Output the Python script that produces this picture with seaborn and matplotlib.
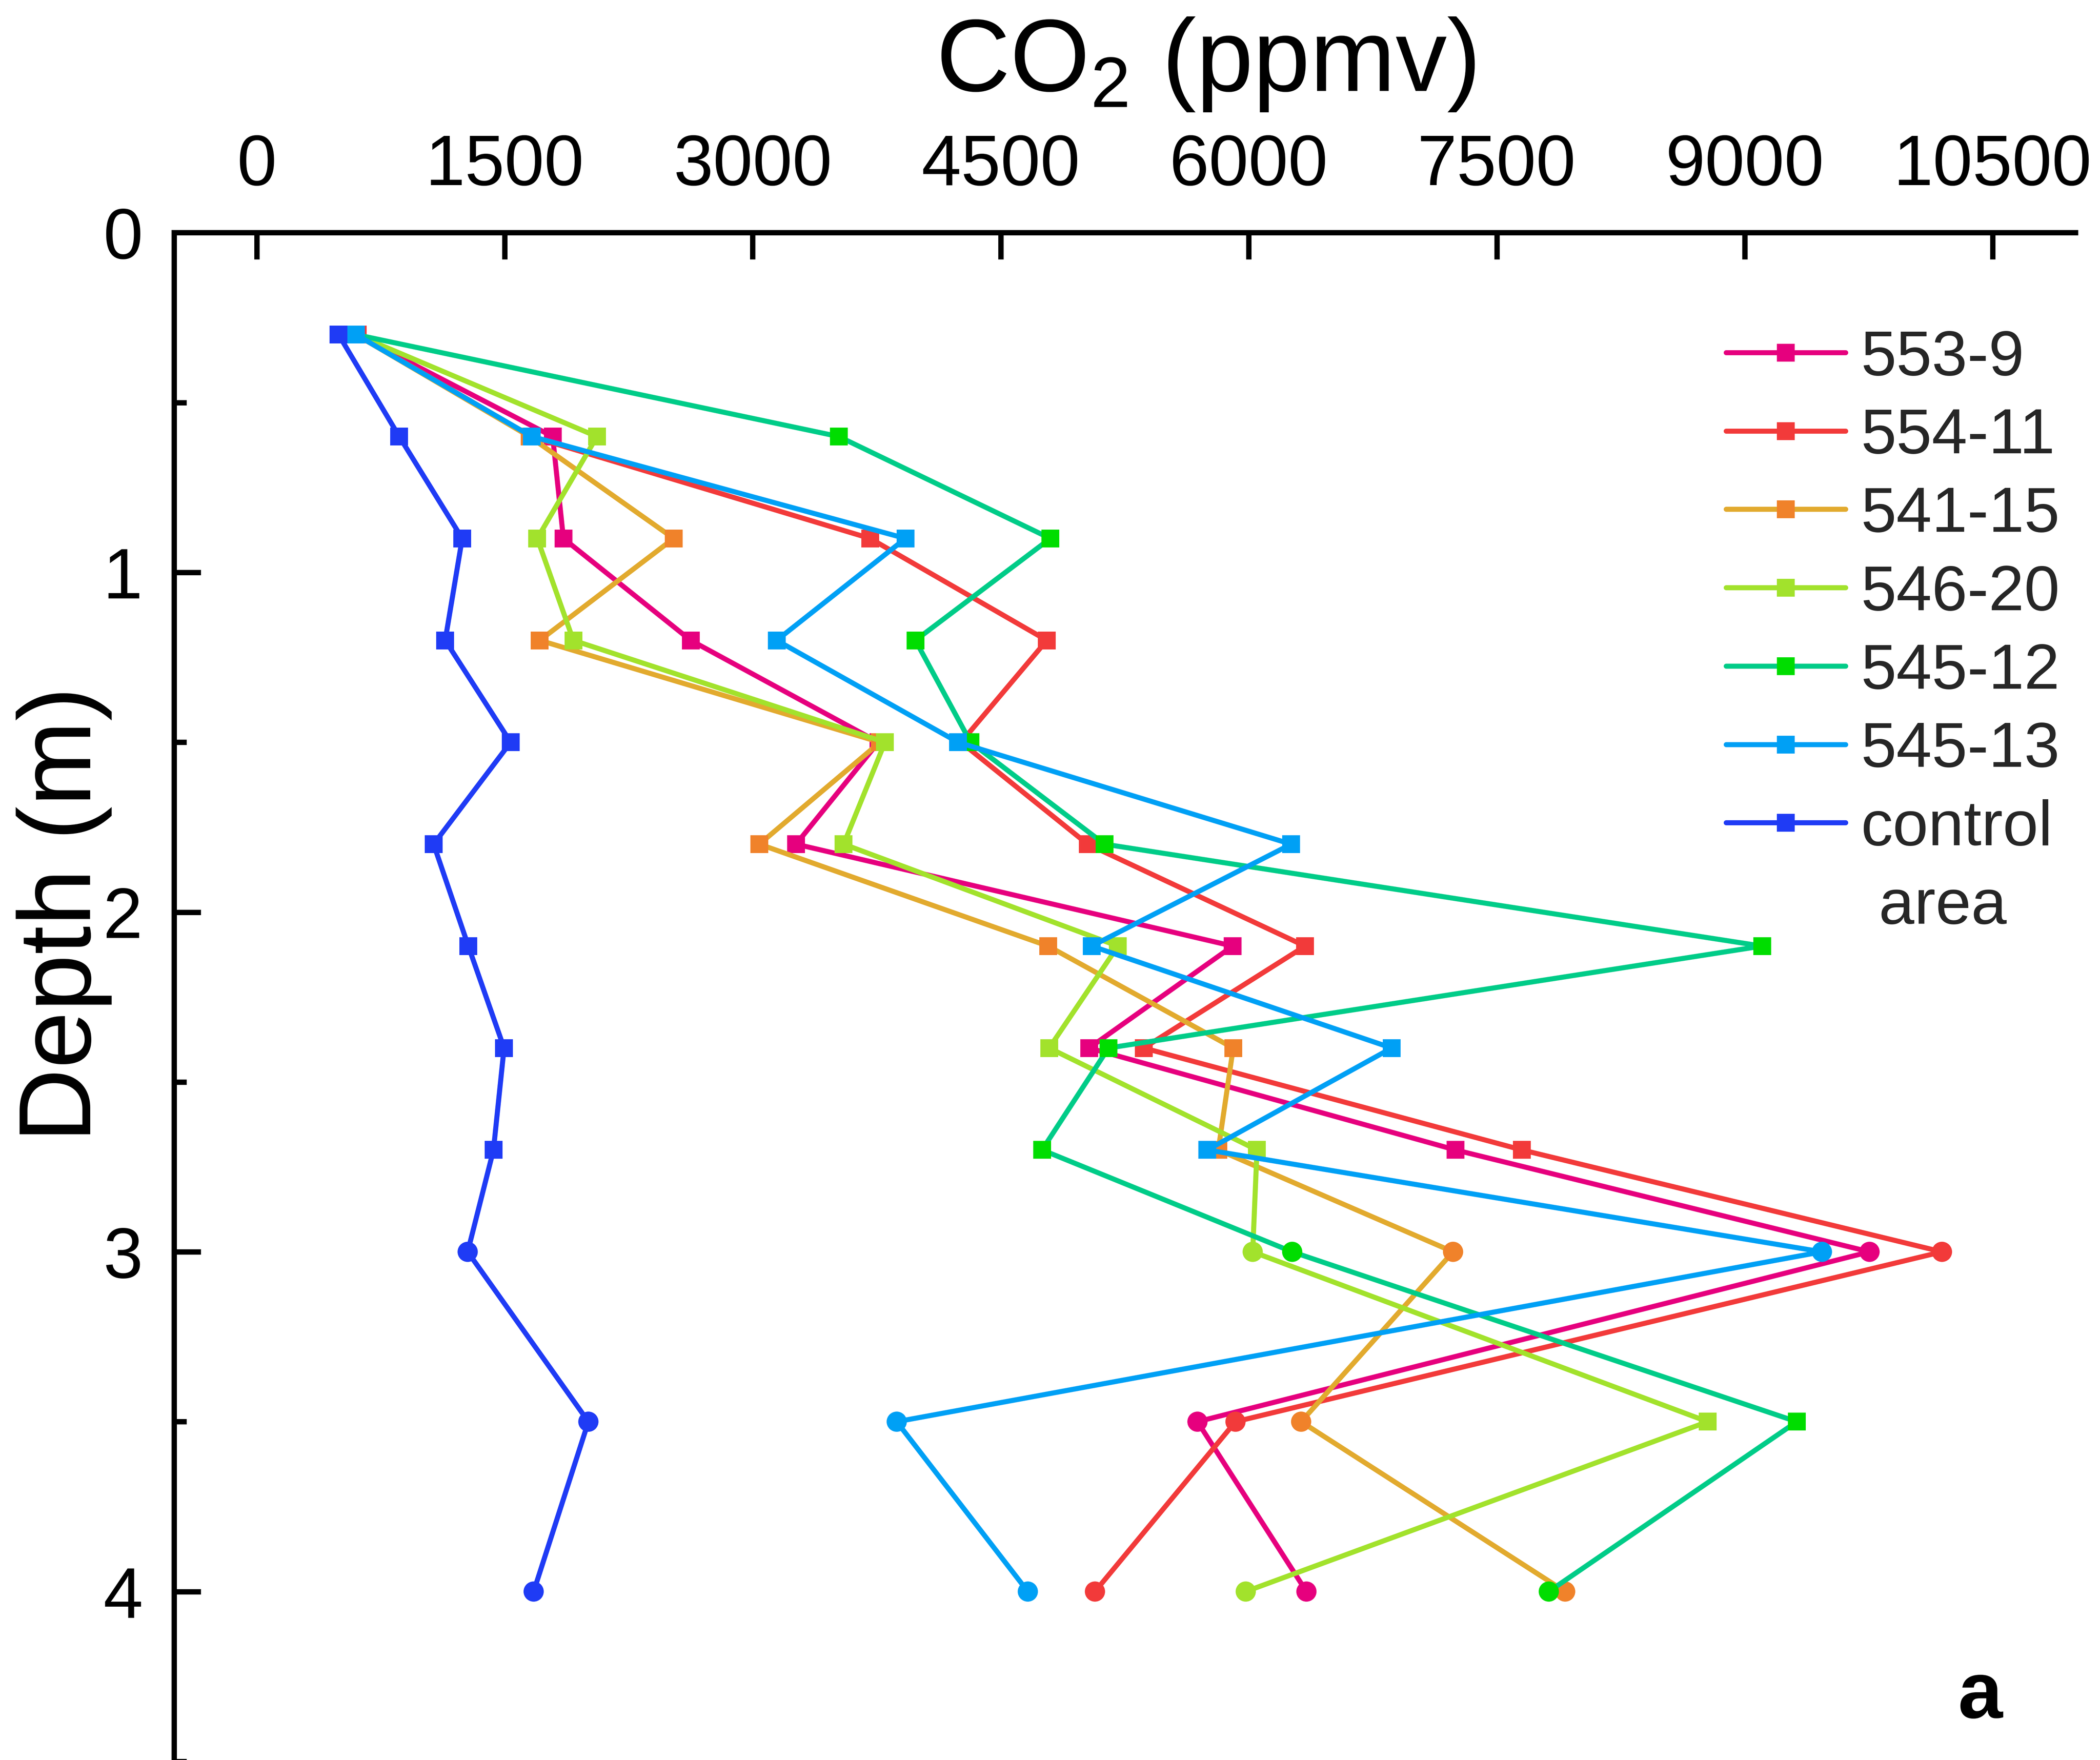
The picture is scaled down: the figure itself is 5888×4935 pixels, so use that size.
import numpy as np
import pandas as pd
import matplotlib
matplotlib.use("Agg")
import matplotlib.pyplot as plt
import seaborn as sns
from matplotlib.lines import Line2D

# ---------------- data ----------------
depth = [0.3, 0.6, 0.9, 1.2, 1.5, 1.8, 2.1, 2.4, 2.7, 3.0, 3.5, 4.0]

co2_553_9 = [600, 1790, 1855, 2625, 3760, 3262, 5903, 5035, 7250, 9755, 5690, 6349]
co2_554_11 = [610, 1660, 3710, 4779, 4260, 5026, 6341, 5365, 7652, 10193, 5920, 5070]
co2_541_15 = [600, 1650, 2522, 1712, 3770, 3040, 4787, 5906, 5816, 7236, 6317, 7914]
co2_546_20 = [600, 2058, 1697, 1915, 3800, 3550, 5209, 4793, 6050, 6024, 8776, 5982]
co2_545_12 = [600, 3520, 4800, 3984, 4318, 5128, 9105, 5152, 4750, 6263, 9315, 7815]
co2_545_13 = [600, 1664, 3924, 3145, 4242, 6257, 5050, 6865, 5750, 9467, 3871, 4664]
co2_control = [495, 862, 1243, 1140, 1536, 1070, 1280, 1496, 1432, 1276, 2006, 1675]

series_names = ["553-9", "554-11", "541-15", "546-20", "545-12", "545-13", "control"]
series_values = [co2_553_9, co2_554_11, co2_541_15, co2_546_20, co2_545_12, co2_545_13, co2_control]

x_ticks = [0, 1500, 3000, 4500, 6000, 7500, 9000, 10500]
x_tick_labels = ["0", "1500", "3000", "4500", "6000", "7500", "9000", "10500"]
y_ticks = [0, 1, 2, 3, 4]
y_tick_labels = ["0", "1", "2", "3", "4"]

df = pd.DataFrame({
    "site": np.repeat(series_names, len(depth)),
    "depth": depth * len(series_names),
    "co2": np.concatenate(series_values),
})

# ---------------- style ----------------
line_colors = {
    "553-9": "#E6007E",
    "554-11": "#F23A3A",
    "541-15": "#E2AA2E",
    "546-20": "#A2E22C",
    "545-12": "#00CC88",
    "545-13": "#00A0F5",
    "control": "#1F3BF5",
}
marker_colors = {
    "553-9": "#E6007E",
    "554-11": "#F23A3A",
    "541-15": "#F0822A",
    "546-20": "#A2E22C",
    "545-12": "#00DD00",
    "545-13": "#00A0F5",
    "control": "#1F3BF5",
}
marker_shapes = {name: ["s"] * 9 + ["o"] * 3 for name in series_names}
marker_shapes["546-20"][10] = "s"
marker_shapes["545-12"][10] = "s"

LW = 3.4
SQ_SIZE = 12
CIRCLE_S = 185

sns.set_theme(style="ticks")
plt.rcParams["font.family"] = ["Liberation Sans", "DejaVu Sans"]
plt.rcParams["mathtext.fontset"] = "custom"
plt.rcParams["mathtext.rm"] = "Liberation Sans"
plt.rcParams["mathtext.it"] = "Liberation Sans:italic"
plt.rcParams["mathtext.bf"] = "Liberation Sans:bold"

W, H, DPI = 5888, 4935, 300
fig = plt.figure(figsize=(W / DPI, H / DPI), dpi=DPI)
fig.patch.set_facecolor("white")
ax = fig.add_axes([0.08288, -0.0008, 0.9054, 0.86859])
ax.set_facecolor("white")

for i, name in enumerate(series_names):
    sub = df[df["site"] == name].reset_index(drop=True)
    shapes = marker_shapes[name]
    sq_idx = [k for k, s in enumerate(shapes) if s == "s"]
    ci_idx = [k for k, s in enumerate(shapes) if s == "o"]
    z = 2 + i * 0.1
    sns.lineplot(data=sub, x="co2", y="depth", orient="y", sort=False,
                 estimator=None, ax=ax, color=line_colors[name], lw=LW,
                 marker="s", markersize=SQ_SIZE, markevery=sq_idx,
                 markerfacecolor=marker_colors[name],
                 markeredgecolor=marker_colors[name], markeredgewidth=0,
                 zorder=z)
    if ci_idx:
        csub = sub.iloc[ci_idx]
        sns.scatterplot(x=csub["co2"], y=csub["depth"], ax=ax, marker="o",
                        s=CIRCLE_S, color=marker_colors[name],
                        edgecolor="none", linewidth=0, zorder=z + 0.05)

ax.set_xlim(-500, 11000)
ax.set_ylim(4.5, 0)

# axes styling
for side in ["right", "bottom"]:
    ax.spines[side].set_visible(False)
for side in ["left", "top"]:
    ax.spines[side].set_linewidth(3.6)
    ax.spines[side].set_color("black")

ax.xaxis.tick_top()
ax.set_xticks(x_ticks, labels=x_tick_labels)
ax.set_yticks(y_ticks, labels=y_tick_labels)
ax.set_yticks(np.arange(0.5, 4.6, 1.0), minor=True)
ax.tick_params(axis="x", which="major", direction="in", length=18, width=3.6,
               labelsize=48, pad=22, top=True, bottom=False, colors="black")
ax.tick_params(axis="y", which="major", direction="in", length=18, width=3.6,
               labelsize=48, pad=21, left=True, right=False, colors="black")
ax.tick_params(axis="y", which="minor", direction="in", length=8.5, width=3.6,
               left=True, right=False, colors="black")

ax.set_xlabel("CO$_2$ (ppmv)", fontsize=69, color="black")
ax.xaxis.set_label_position("top")
ax.xaxis.label.set_va("center")
ax.xaxis.set_label_coords(0.5425, 1.11)

ax.set_ylabel("Depth (m)", fontsize=69, color="black")
ax.yaxis.label.set_va("center")
ax.yaxis.set_label_coords(-0.0578, 0.554)

# legend
handles = []
for name in series_names:
    handles.append(Line2D([], [], color=line_colors[name], lw=LW, marker="s",
                          markersize=SQ_SIZE, markerfacecolor=marker_colors[name],
                          markeredgecolor=marker_colors[name], markeredgewidth=0))
handles.append(Line2D([], [], color="none"))
labels = series_names + [" area"]
ax.legend(handles, labels, loc="upper left", bbox_to_anchor=(0.8163, 0.937),
          frameon=False, fontsize=43, handlelength=1.87, handletextpad=0.24,
          labelspacing=0.30, borderpad=0, borderaxespad=0)

ax.text(0.95, 0.0285, "a", transform=ax.transAxes, fontsize=54,
        fontweight="bold", ha="center", va="baseline", color="black")

fig.savefig("out.png", dpi=DPI, facecolor="white")
